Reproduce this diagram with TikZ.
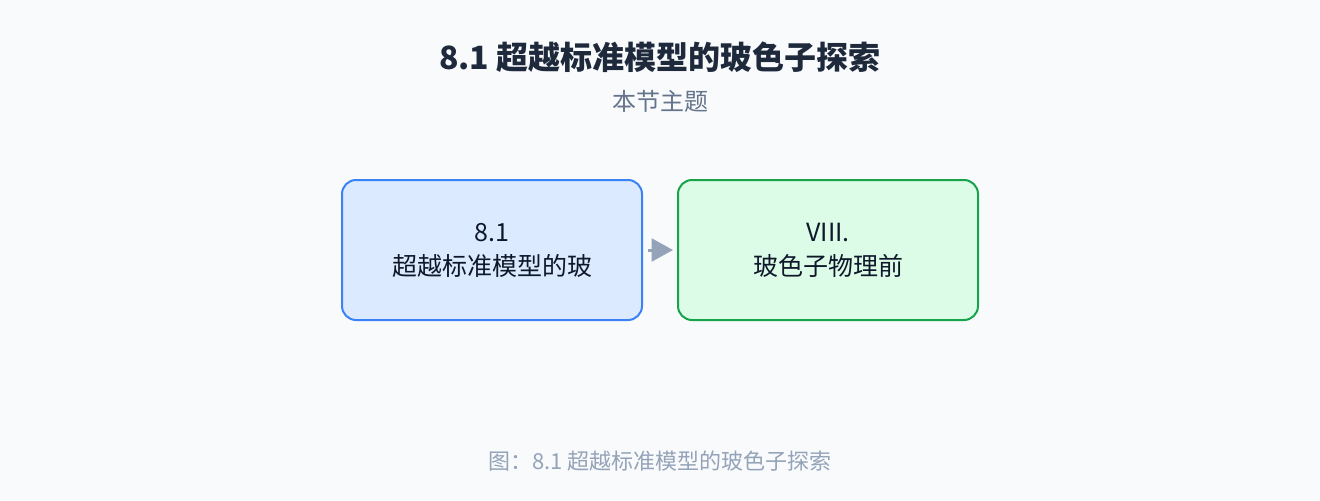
\documentclass[tikz,border=0pt]{standalone}
\usepackage{fontspec}
\setmainfont{Noto Sans CJK SC}
\usepackage{tikz}
\usetikzlibrary{arrows.meta,positioning}

\definecolor{bgcol}{HTML}{F8FAFC}
\definecolor{titlecol}{HTML}{1E293B}
\definecolor{subcol}{HTML}{64748B}
\definecolor{capcol}{HTML}{94A3B8}
\definecolor{blueline}{HTML}{3B82F6}
\definecolor{bluefill}{HTML}{DBEAFE}
\definecolor{greenline}{HTML}{16A34A}
\definecolor{greenfill}{HTML}{DCFCE7}
\definecolor{boxtext}{HTML}{0F172A}

\tikzset{
  topic/.style={draw, line width=1.5pt, rounded corners=10.5pt,
    minimum width=225pt, minimum height=105pt, align=center,
    text=boxtext, font=\fontsize{18.75pt}{25.5pt}\selectfont},
  flow/.style={draw=capcol, line width=2.25pt,
    -{Triangle[length=16pt,width=17pt]}}
}

\begin{document}
\begin{tikzpicture}[x=0.75pt, y=-0.75pt]
    % Background
    \fill[bgcol] (0,0) rectangle (1320,500);
    \useasboundingbox (0,0) rectangle (1320,500);
    % Title
    \node[text=titlecol, font=\fontsize{24pt}{28pt}\selectfont\bfseries] (title) at (660,57) {8.1 超越标准模型的玻色子探索};
    \node[text=subcol, font=\fontsize{18pt}{21pt}\selectfont] (subtitle) at (660,101) {本节主题};
    % Boxes
    \node[topic, draw=blueline, fill=bluefill] (stdbox) at (492,250) {8.1\\超越标准模型的玻};
    \node[topic, draw=greenline, fill=greenfill, right=25.5pt of stdbox] (bosonbox) {VIII.\\玻色子物理前};
    % Arrow
    \draw[flow, shorten <=3.75pt, shorten >=3pt] (stdbox) -- (bosonbox);
    % Caption
    \node[text=capcol, font=\fontsize{16.5pt}{19pt}\selectfont] (caption) at (660,461) {图：8.1 超越标准模型的玻色子探索};
\end{tikzpicture}
\end{document}
